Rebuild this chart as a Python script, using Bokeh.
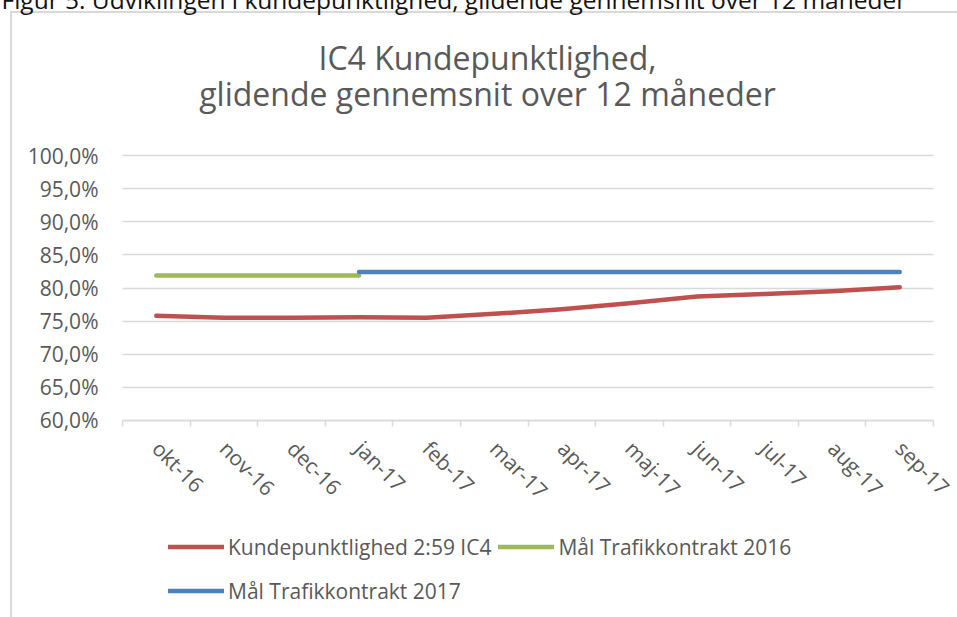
import math
from bokeh.plotting import figure
from bokeh.models import (FactorRange, Range1d, LinearAxis, CategoricalAxis, FixedTicker,
                          Legend, LegendItem, Title, Label, ColumnDataSource, CustomLabelingPolicy)
from bokeh.embed import file_html
from bokeh.resources import INLINE

# ---- data ----
months = ["okt-16", "nov-16", "dec-16", "jan-17", "feb-17", "mar-17",
          "apr-17", "maj-17", "jun-17", "jul-17", "aug-17", "sep-17"]
kundepunktlighed = [75.8, 75.5, 75.5, 75.6, 75.5, 76.1, 76.8, 77.7, 78.7, 79.1, 79.5, 80.1]
maal_2016 = [81.9, 81.9, 81.9, 81.9, None, None, None, None, None, None, None, None]
maal_2017 = [None, None, None, 82.4, 82.4, 82.4, 82.4, 82.4, 82.4, 82.4, 82.4, 82.4]
y_ticks = [60, 65, 70, 75, 80, 85, 90, 95, 100]
y_tick_labels = ["60,0%", "65,0%", "70,0%", "75,0%", "80,0%", "85,0%", "90,0%", "95,0%", "100,0%"]
series_names = ["Kundepunktlighed 2:59 IC4", "Mål Trafikkontrakt 2016", "Mål Trafikkontrakt 2017"]
title_lines = ["IC4 Kundepunktlighed,", "glidende gennemsnit over 12 måneder"]
caption = "Figur 5: Udviklingen i kundepunktlighed, glidende gennemsnit over 12 måneder"

FONT = "Open Sans"
GREY = "#595959"
GRID = "#d9d9d9"

def nanify(v):
    return [float("nan") if x is None else x for x in v]

src = ColumnDataSource(dict(x=months, a=kundepunktlighed, b=nanify(maal_2016), c=nanify(maal_2017)))

# chart-area frame lines (left + top) drawn as the page background behind a transparent canvas
box_bg = ("linear-gradient(#d9d9d9,#d9d9d9) 10px 11px / 2px 100% no-repeat, "
          "linear-gradient(#d9d9d9,#d9d9d9) 10px 11px / 100% 2px no-repeat, #ffffff")

# plot area: 100 % at y=155 px, 60 % at y=420 px; categories span x=122..933 px
p = figure(width=957, height=617, output_backend="svg", toolbar_location=None,
           x_range=FactorRange(*months, range_padding=0.355, range_padding_units="absolute"),
           y_range=Range1d(30.26, 123.40),
           x_axis_location=None, y_axis_location=None,
           min_border_left=98, min_border_right=0, min_border_top=0, min_border_bottom=0,
           styles={"background": box_bg})
p.outline_line_color = None
p.background_fill_alpha = 0
p.border_fill_alpha = 0
p.xgrid.visible = False
p.ygrid.visible = False

no_labels = CustomLabelingPolicy(code="return new Set()")

# horizontal grid lines (long inward ticks of an unlabeled axis at the category start)
grid_ax = LinearAxis(ticker=FixedTicker(ticks=y_ticks), fixed_location=0,
                     major_label_policy=no_labels, level="underlay")
grid_ax.axis_line_color = None
grid_ax.major_tick_line_color = GRID
grid_ax.major_tick_line_width = 1.5
grid_ax.major_tick_out = 0
grid_ax.major_tick_in = 811
grid_ax.minor_tick_line_color = None
grid_ax.major_label_text_font_size = "1px"
p.add_layout(grid_ax, "left")

# y axis labels
yax = LinearAxis(ticker=FixedTicker(ticks=y_ticks),
                 major_label_overrides={t: l for t, l in zip(y_ticks, y_tick_labels)})
yax.axis_line_color = None
yax.major_tick_line_color = None
yax.minor_tick_line_color = None
yax.major_tick_out = 0
yax.major_tick_in = 0
yax.major_label_standoff = 0
yax.major_label_text_font = FONT
yax.major_label_text_font_size = "21px"
yax.major_label_text_color = GREY
p.add_layout(yax, "left")

# x axis: tick marks between categories (no labels), sitting at 60 %
tick_ax = LinearAxis(ticker=FixedTicker(ticks=list(range(len(months) + 1))),
                     major_label_policy=CustomLabelingPolicy(code="return new Set()"),
                     fixed_location=60, bounds=(0, len(months)))
tick_ax.axis_line_color = GRID
tick_ax.axis_line_width = 1.5
tick_ax.major_tick_line_color = GRID
tick_ax.major_tick_line_width = 1.5
tick_ax.major_tick_in = 0
tick_ax.major_tick_out = 6
tick_ax.minor_tick_line_color = None
tick_ax.major_label_text_font_size = "1px"
tick_ax.major_label_standoff = 0
p.add_layout(tick_ax, "below")

# x axis: category labels
lab_ax = CategoricalAxis(fixed_location=60)
lab_ax.axis_line_color = None
lab_ax.major_tick_line_color = None
lab_ax.major_tick_out = 0
lab_ax.major_tick_in = 0
lab_ax.major_label_orientation = -math.pi / 4
lab_ax.major_label_standoff = 24
lab_ax.major_label_text_font = FONT
lab_ax.major_label_text_font_size = "21px"
lab_ax.major_label_text_color = GREY
p.add_layout(lab_ax, "below")

r1 = p.line("x", "a", source=src, line_color="#c0504d", line_width=4.5, line_cap="round", line_join="round")
r2 = p.line("x", "b", source=src, line_color="#9bbb59", line_width=4.5, line_cap="round")
r3 = p.line("x", "c", source=src, line_color="#4f81bd", line_width=4.5, line_cap="round")

legend = Legend(items=[LegendItem(label=series_names[0], renderers=[r1]),
                       LegendItem(label=series_names[1], renderers=[r2]),
                       LegendItem(label=series_names[2], renderers=[r3])],
                orientation="horizontal", ncols=2, location=(70, 8),
                glyph_width=56, glyph_height=37, label_height=37, label_standoff=4,
                spacing=7, padding=0, margin=0,
                border_line_color=None, background_fill_alpha=0,
                label_text_font=FONT, label_text_font_size="21px", label_text_color=GREY)
p.add_layout(legend, "center")

# chart title (two centred lines)
p.add_layout(Label(x=487, y=57, x_units="canvas", y_units="canvas", text=title_lines[0],
                   text_align="center", text_baseline="alphabetic",
                   text_font=FONT, text_font_size="32px", text_color=GREY))
p.add_layout(Label(x=487, y=93, x_units="canvas", y_units="canvas", text=title_lines[1],
                   text_align="center", text_baseline="alphabetic",
                   text_font=FONT, text_font_size="32px", text_color=GREY))

# page caption above the chart (cut by the top edge, as in the source)
p.add_layout(Title(text=caption, align="left", offset=-97, vertical_align="top", standoff=-35,
                   text_font=FONT, text_font_size="24.5px", text_font_style="normal",
                   text_color="#111111"), "above")

open("out.html", "w").write(file_html(p, INLINE))
